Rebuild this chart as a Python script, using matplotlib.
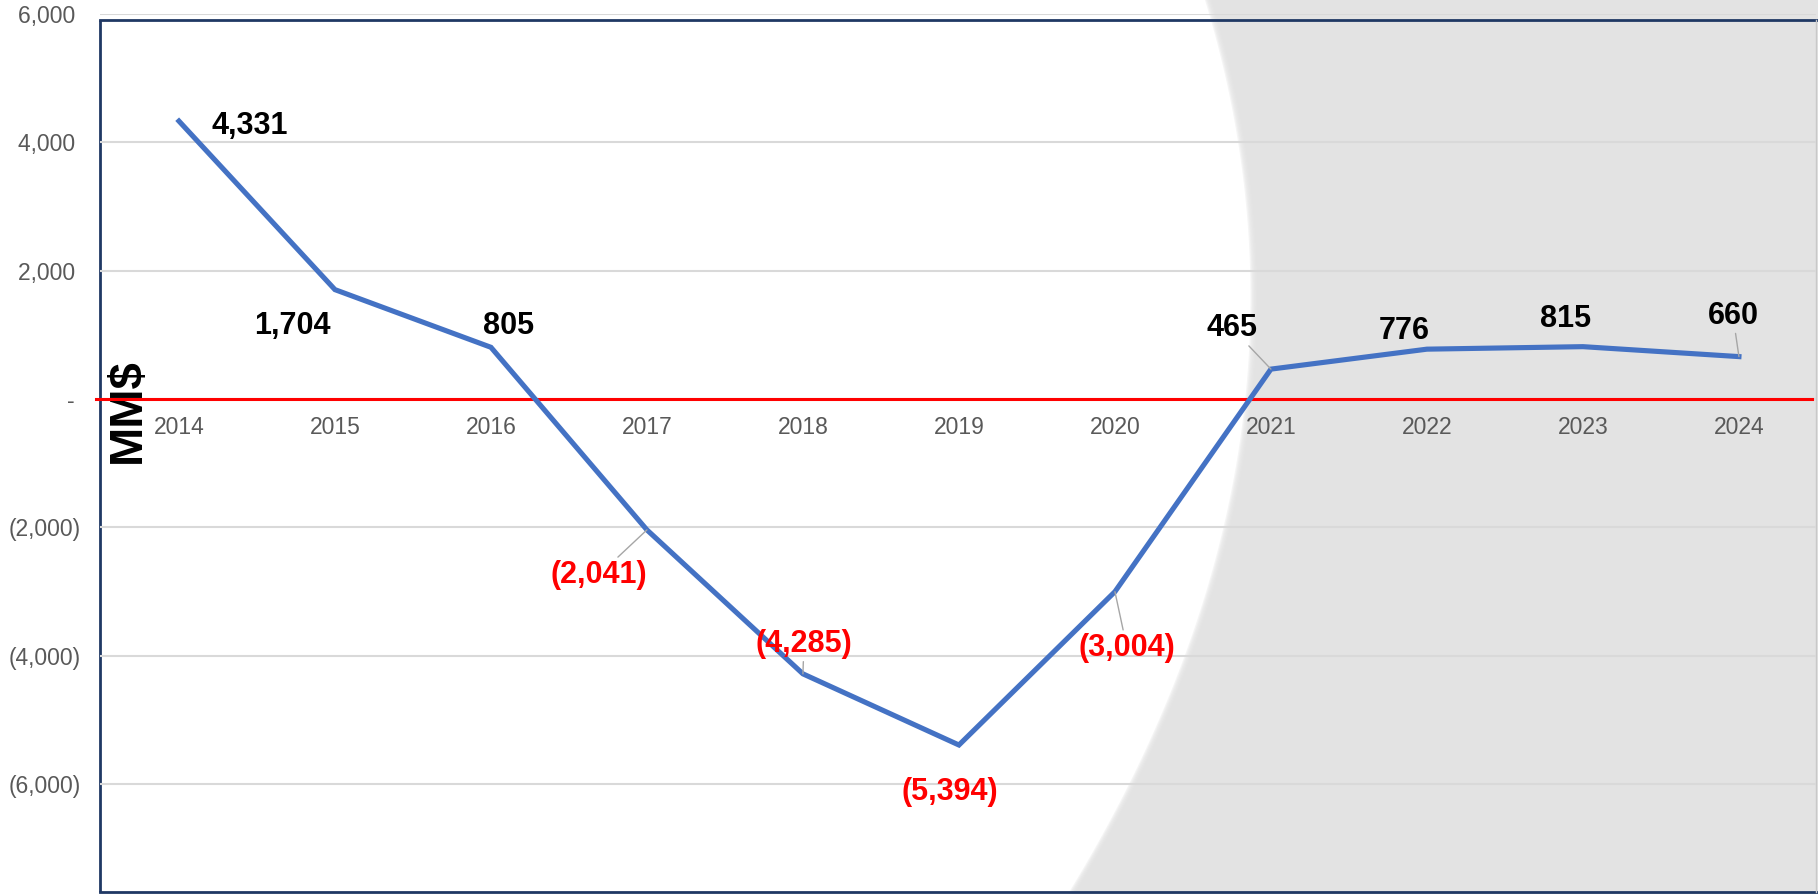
import matplotlib.pyplot as plt
import numpy as np

plt.rcParams['font.family'] = ['Liberation Sans', 'DejaVu Sans']

# data
years = ['2014', '2015', '2016', '2017', '2018', '2019', '2020', '2021', '2022', '2023', '2024']
values = [4331, 1704, 805, -2041, -4285, -5394, -3004, 465, 776, 815, 660]
y_ticks = [-6000, -4000, -2000, 0, 2000, 4000, 6000]

# label offsets in pixels (dx, dy) and whether a leader line is drawn
label_offsets = [(71, -5), (-43, -36), (18, 21), (-48, -45), (1, 30), (-9, -47),
                 (12, -56), (-39, 41), (-23, 18), (-17, 28), (-6, 41)]
leaders = [False, False, False, True, True, False, True, True, False, False, True]

W, H = 1818, 894
fig = plt.figure(figsize=(W / 100, H / 100), dpi=100)

# background layer in pixel coords
bg = fig.add_axes([0, 0, 1, 1], zorder=0)
bg.set_xlim(0, W)
bg.set_ylim(H, 0)
bg.axis('off')
yy = np.linspace(0, H, 300)
edge = 1205 + 0.3058 * yy - 5.135e-4 * yy ** 2
for k in range(6):
    bg.fill_betweenx(yy, edge + k * 1.2, W, color='#E3E3E3', alpha=0.35, lw=0)
bg.fill_betweenx(yy, edge + 7, W, color='#E3E3E3', lw=0)
# frame
bg.plot([100, 100], [20, 892], color='#1F3864', lw=2, solid_capstyle='butt')
bg.plot([100, W], [20, 20], color='#1F3864', lw=2)
bg.plot([100, W], [892, 892], color='#1F3864', lw=2)
bg.plot([W - 2, W - 2], [20, 892], color='#C8C8C8', lw=1)
bg.text(128, 411, 'MM$', rotation=90, ha='center', va='center',
        fontsize=34, fontweight='bold', color='black')

# main chart
ax = fig.add_axes([100 / W, (H - 892) / H, (1816 - 100) / W, (892 - 14) / H], zorder=1)
ax.patch.set_alpha(0)
x = np.arange(len(years))
ax.set_xlim(-0.506, 10.494)
ax.set_ylim(-7685, 6000)

ax.set_yticks(y_ticks)
def fmt(v):
    if v < 0:
        return '({:,})'.format(-v)
    if v == 0:
        return '- '
    return '{:,} '.format(v)
ax.set_yticklabels([fmt(v) for v in y_ticks])
ax.yaxis.grid(True, color='#D9D9D9', lw=1.5)
ax.set_axisbelow(True)
ax.tick_params(axis='y', length=0, pad=13.5, labelsize=16.5, labelcolor='#595959')

ax.set_xticks(x)
ax.set_xticklabels(years)
ax.spines['bottom'].set_position(('data', 0))
for s in ax.spines.values():
    s.set_visible(False)
ax.tick_params(axis='x', length=0, pad=12, labelsize=16.5, labelcolor='#595959')

ax.axhline(0, xmin=-0.0023, xmax=0.9977, color='#FF0000', lw=2.2, clip_on=False, zorder=2)
ax.plot(x, values, color='#4472C4', lw=3.7, zorder=3, solid_joinstyle='miter')

for i, v in enumerate(values):
    txt = '{:,}'.format(v) if v >= 0 else '({:,})'.format(-v)
    col = 'black' if v >= 0 else '#FF0000'
    kw = {}
    if leaders[i]:
        kw['arrowprops'] = dict(arrowstyle='-', color='#A6A6A6', lw=1, shrinkA=0, shrinkB=0)
    ax.annotate(txt, (x[i], v), xytext=label_offsets[i], textcoords='offset pixels',
                ha='center', va='center', fontsize=22, fontweight='bold', color=col,
                zorder=4, **kw)

fig.savefig('out.png', dpi=100)
